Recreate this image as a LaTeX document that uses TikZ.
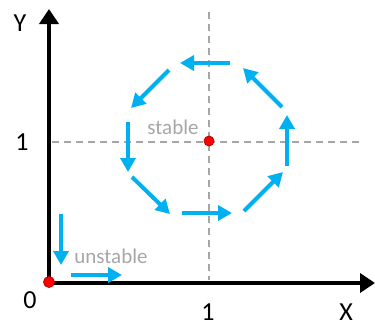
\documentclass[tikz,border=0pt]{standalone}
\usepackage{fontspec}
\setmainfont{Carlito}
\usetikzlibrary{arrows.meta}
\definecolor{flowblue}{HTML}{00B0F0}
\definecolor{guidegray}{HTML}{A6A6A6}
\definecolor{dotred}{HTML}{FF0000}
\definecolor{dotedge}{HTML}{C00000}
\tikzset{
  flow/.style={draw=flowblue, line width=4pt, -{Triangle[length=14pt,width=15pt]}},
  axisline/.style={draw=black, line width=4.5pt, -{Triangle[length=15pt,width=19pt]}},
  guide/.style={draw=guidegray, line width=1.5pt, dash pattern=on 7pt off 5pt},
  fixdot/.style={circle, fill=dotred, draw=dotedge, line width=0.8pt, inner sep=0pt, minimum size=11pt},
  biglabel/.style={font=\fontsize{26}{30}\selectfont, text=black, inner sep=0pt},
  graylabel/.style={font=\fontsize{21}{25}\selectfont, text=guidegray, inner sep=0pt}
}
\begin{document}
\begin{tikzpicture}[x=1pt,y=-1pt]
\useasboundingbox (0,0) rectangle (375,327);
% guides
\coordinate (vtop) at (209,12);
\coordinate (vbot) at (209,280);
\coordinate (hl) at (52,142);
\coordinate (hr) at (362,142);
\draw[guide] (vtop) -- (vbot);
\draw[guide] (hl) -- (hr);
% axes
\coordinate (orig) at (49,283);
\coordinate (ytip) at (49,9);
\coordinate (xtip) at (375,283);
\draw[axisline] ([yshift=2.25pt]orig) -- (ytip);
\draw[axisline] ([xshift=-2.25pt]orig) -- (xtip);
% labels
\node[biglabel] (ylab) at (20,23) {Y};
\node[biglabel] (one_y) at (22,142) {1};
\node[biglabel] (zero) at (30,300) {0};
\node[biglabel] (one_x) at (208,312) {1};
\node[biglabel] (xlab) at (346,312) {X};
\node[graylabel] (stab) at (173,127) {stable};
\node[graylabel] (unstab) at (111,256) {unstable};
% octagon arrows
\coordinate (a1s) at (230,63);  \coordinate (a1e) at (180,63);
\coordinate (a2s) at (169,70);  \coordinate (a2e) at (131,108);
\coordinate (a3s) at (128,122); \coordinate (a3e) at (128,172);
\coordinate (a4s) at (132,177); \coordinate (a4e) at (170,214);
\coordinate (a5s) at (182,213); \coordinate (a5e) at (232,213);
\coordinate (a6s) at (244,211); \coordinate (a6e) at (283,172);
\coordinate (a7s) at (287,166); \coordinate (a7e) at (287,115);
\coordinate (a8s) at (282,107); \coordinate (a8e) at (243,68);
\foreach \i in {1,...,8} {\draw[flow] (a\i s) -- (a\i e);}
% unstable arrows
\coordinate (u1s) at (61,214); \coordinate (u1e) at (61,265);
\coordinate (u2s) at (71,275); \coordinate (u2e) at (122,275);
\draw[flow] (u1s) -- (u1e);
\draw[flow] (u2s) -- (u2e);
% fixed points
\node[fixdot] (origin) at (49,282) {};
\node[fixdot, minimum size=10pt] (center) at (209,141) {};
\end{tikzpicture}
\end{document}
